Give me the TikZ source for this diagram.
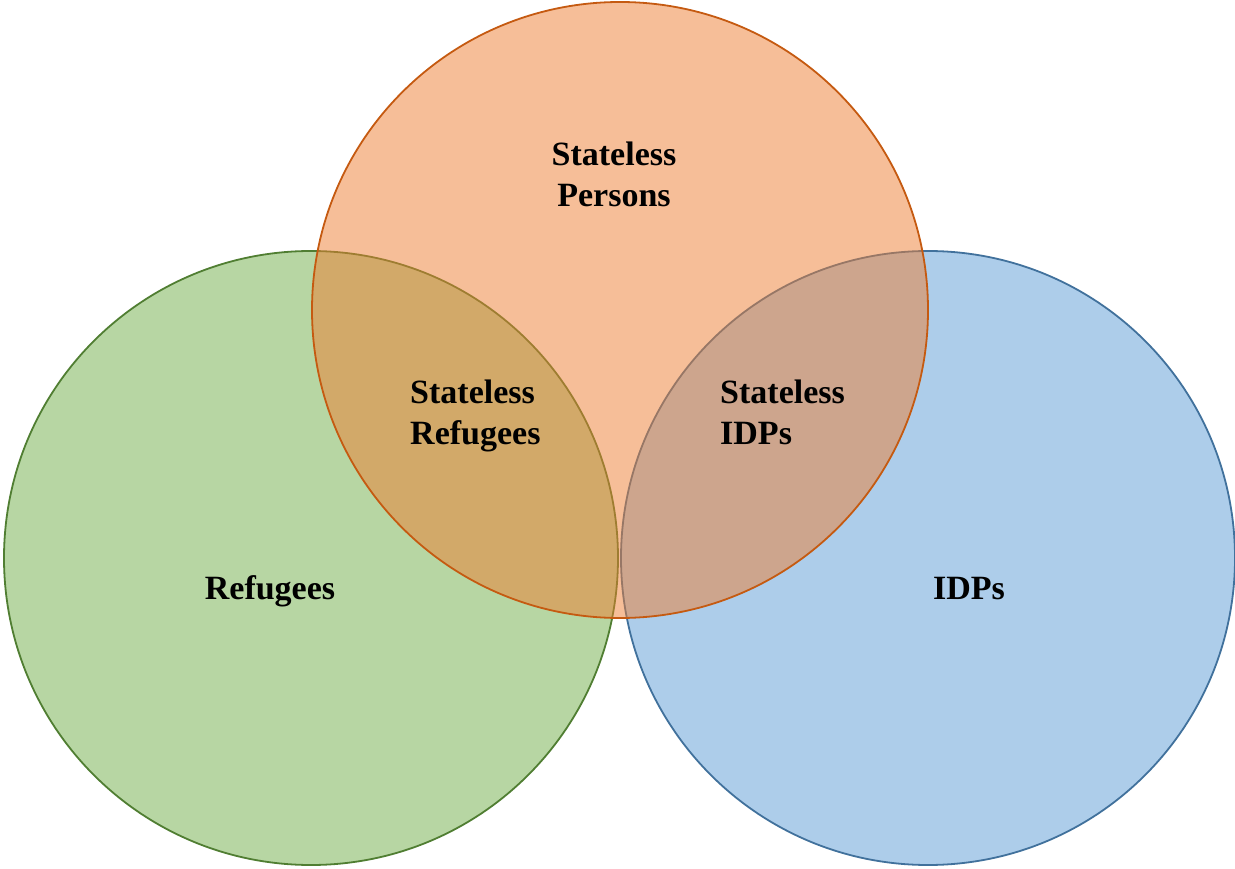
\documentclass[tikz,border=0pt]{standalone}
\usepackage{fontspec}
\setmainfont{Liberation Serif}
\usepackage{tikz}

\definecolor{greenfill}{HTML}{70AD47}
\definecolor{greenline}{HTML}{507E32}
\definecolor{orangefill}{HTML}{ED7D31}
\definecolor{orangeline}{HTML}{C55A11}
\definecolor{bluefill}{HTML}{5B9BD5}
\definecolor{blueline}{HTML}{41719C}

\begin{document}
\begin{tikzpicture}[x=1pt,y=-1pt,
  set/.style={fill opacity=0.5,draw opacity=1,line width=1.8pt},
  lbl/.style={font=\bfseries\fontsize{34}{41}\selectfont,inner sep=0pt}]
\useasboundingbox (0,0) rectangle (1235,869);

\draw[set,fill=greenfill,draw=greenline] (311,558) circle (307pt);
\draw[set,fill=bluefill,draw=blueline] (928,558) circle (307pt);
\draw[set,fill=orangefill,draw=orangeline] (620,310) circle (308pt);

\node[lbl,align=center] (persons) at (614,174.5) {Stateless\\Persons};
\node[lbl,align=left,anchor=west] (statref) at (410,416) {Stateless\\Refugees};
\node[lbl,align=left,anchor=west] (statidp) at (720,412) {Stateless\\IDPs};
\node[lbl] (refugees) at (270,591) {Refugees};
\node[lbl] (idps) at (969,589) {IDPs};
\end{tikzpicture}
\end{document}
